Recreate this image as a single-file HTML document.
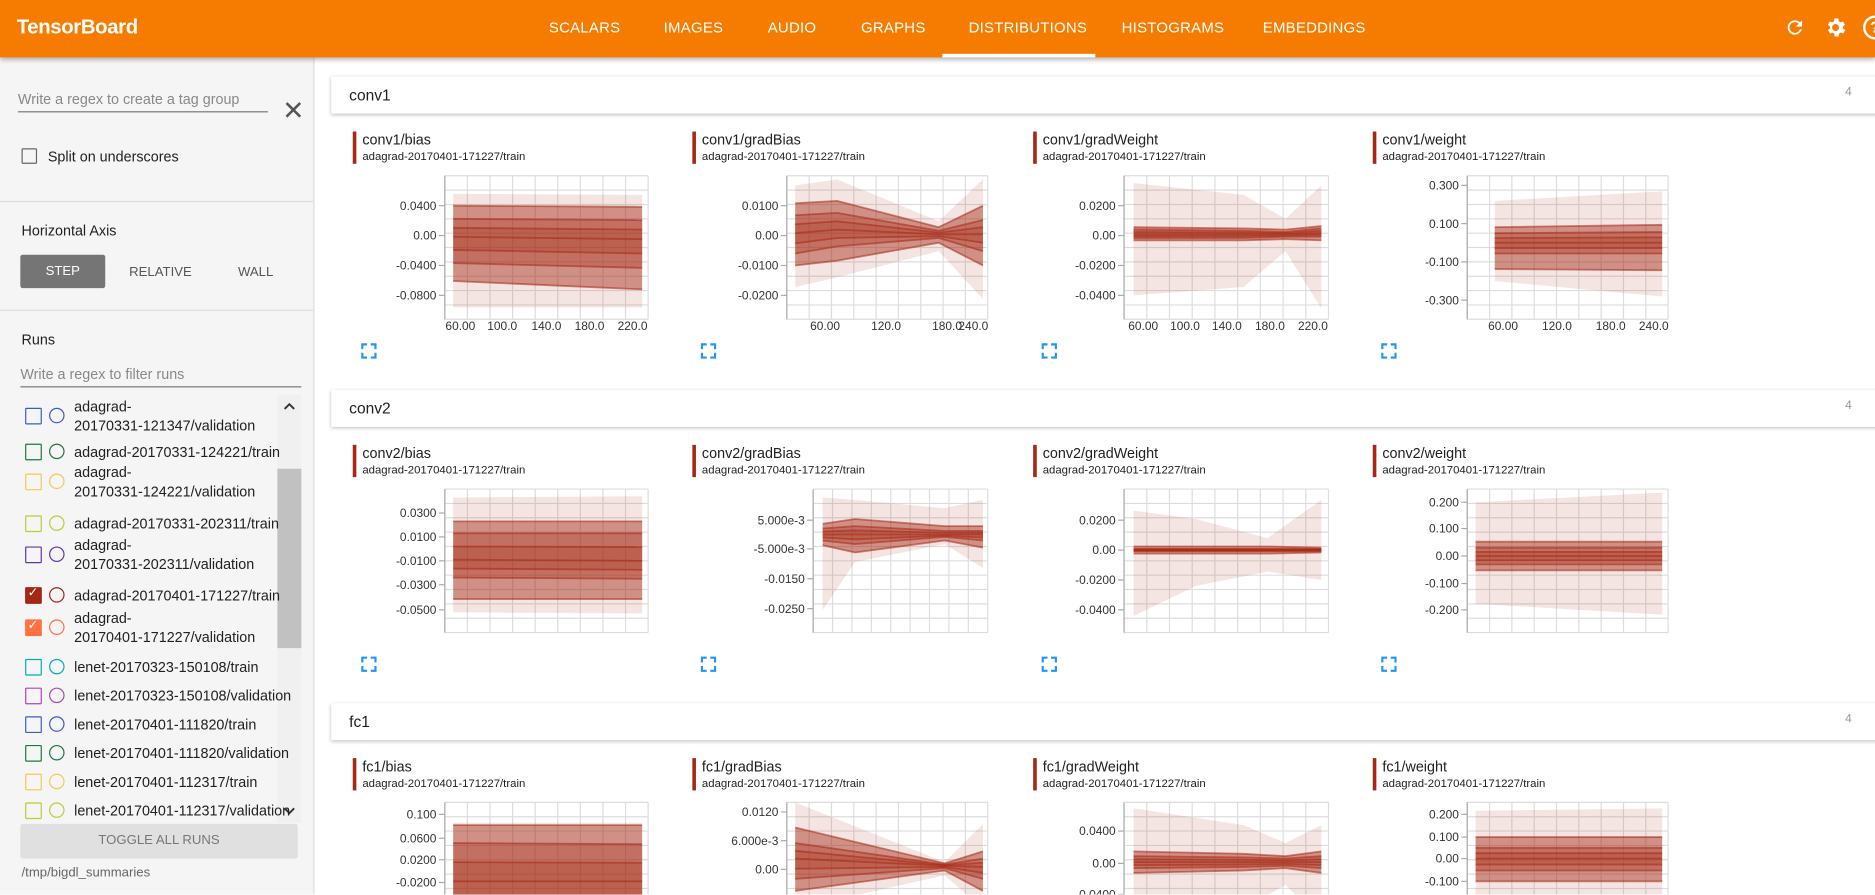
<!DOCTYPE html>
<html><head><meta charset="utf-8">
<style>
html,body{margin:0;padding:0;width:1875px;height:895px;overflow:hidden;background:#fff;font-family:"Liberation Sans",Arial,sans-serif;}
#wrap{position:absolute;left:0;top:0;width:1568px;height:748px;transform:scale(1.19579);transform-origin:0 0;overflow:hidden;background:#fff;}
.abs{position:absolute;white-space:nowrap;}
#hdr{position:absolute;left:0;top:0;width:1568px;height:48px;background:#f57c00;box-shadow:0 2px 4px rgba(0,0,0,.3);z-index:5;}
.tab{position:absolute;top:16px;color:#fff;font-size:12.5px;letter-spacing:.2px;}
#side{position:absolute;left:0;top:48px;width:262px;height:700px;background:#f5f5f5;border-right:1px solid #ddd;}
.div{position:absolute;left:0;width:262px;height:1px;background:#ddd;}
.sec{position:absolute;left:277px;width:1300px;height:31px;background:#fff;box-shadow:0 1px 3px rgba(0,0,0,.25);}
.sec span{position:absolute;left:15px;top:8px;font-size:13px;color:#212121;}
.sec i{position:absolute;left:1266px;top:8px;font-size:10px;color:#999;font-style:normal;}
.run{position:absolute;left:62px;font-size:12px;color:#212121;line-height:16px;}
.cb{position:absolute;left:21px;width:12px;height:12px;border:1.5px solid;border-radius:1px;}
.ci{position:absolute;left:41px;width:11px;height:11px;border:1.3px solid;border-radius:50%;}
</style></head><body>
<div id="wrap">
<div id="hdr">
 <div class="abs" style="left:14px;top:13px;color:#fff;font-size:17px;font-weight:bold;letter-spacing:-.3px">TensorBoard</div>
 <div class="tab" style="left:459px">SCALARS</div>
 <div class="tab" style="left:555px">IMAGES</div>
 <div class="tab" style="left:642px">AUDIO</div>
 <div class="tab" style="left:720px">GRAPHS</div>
 <div class="tab" style="left:810px">DISTRIBUTIONS</div>
 <div class="tab" style="left:938px">HISTOGRAMS</div>
 <div class="tab" style="left:1056px">EMBEDDINGS</div>
 <div class="abs" style="left:788px;top:45px;width:128px;height:3px;background:#fff"></div>
 <svg class="abs" style="left:1492px;top:14px" width="18" height="18" viewBox="0 0 24 24"><path fill="#fff" d="M17.65 6.35A7.95 7.95 0 0 0 12 4a8 8 0 1 0 7.730 10h-2.08A6 6 0 1 1 12 6c1.66 0 3.14.69 4.22 1.78L13 11h7V4l-2.35 2.35z"/></svg>
 <svg class="abs" style="left:1525px;top:13px" width="20" height="20" viewBox="0 0 24 24"><path fill="#fff" d="M19.4 13a7.5 7.5 0 0 0 0-2l2.1-1.6-2-3.5-2.5 1a7 7 0 0 0-1.7-1L14.9 3h-4l-.4 2.9a7 7 0 0 0-1.7 1l-2.5-1-2 3.5L6.6 11a7.5 7.5 0 0 0 0 2l-2.1 1.6 2 3.5 2.5-1a7 7 0 0 0 1.7 1l.4 2.9h4l.4-2.9a7 7 0 0 0 1.7-1l2.5 1 2-3.5zM12 15.5a3.5 3.5 0 1 1 0-7 3.5 3.5 0 0 1 0 7z"/></svg>
 <div class="abs" style="left:1558px;top:13px;width:16px;height:16px;border:2px solid #fff;border-radius:50%;color:#fff;font-size:13px;font-weight:bold;text-align:center;line-height:16px">?</div>
</div>
<div id="side">
 <div class="abs" style="left:15px;top:28px;font-size:12px;color:#888">Write a regex to create a tag group</div>
 <div class="abs" style="left:15px;top:45px;width:209px;height:1px;background:#777"></div>
 <div class="abs" style="left:236px;top:34px;font-size:22px;color:#555;line-height:22px">✕</div>
 <div class="abs" style="left:18px;top:76px;width:11px;height:11px;border:1.5px solid #666;border-radius:1px"></div>
 <div class="abs" style="left:40px;top:76px;font-size:12px;color:#212121">Split on underscores</div>
 <div class="div" style="top:120px"></div>
 <div class="abs" style="left:18px;top:138px;font-size:12px;color:#212121">Horizontal Axis</div>
 <div class="abs" style="left:17px;top:165px;width:71px;height:28px;background:#757575;border-radius:2px;color:#fff;font-size:11px;text-align:center;line-height:28px">STEP</div>
 <div class="abs" style="left:108px;top:174px;font-size:11px;color:#555">RELATIVE</div>
 <div class="abs" style="left:199px;top:174px;font-size:11px;color:#555">WALL</div>
 <div class="div" style="top:211px"></div>
 <div class="abs" style="left:18px;top:229px;font-size:12px;color:#212121">Runs</div>
 <div class="abs" style="left:17px;top:258px;font-size:12px;color:#888">Write a regex to filter runs</div>
 <div class="abs" style="left:17px;top:275px;width:235px;height:1px;background:#777"></div>
 <div class="abs" style="left:232px;top:282px;width:20px;height:358px;background:#f0f0f0"></div>
 <div class="abs" style="left:232px;top:344px;width:20px;height:150px;background:#c1c1c1"></div>
 <svg class="abs" style="left:237px;top:288px" width="10" height="8"><path d="M1 6L5 2L9 6" stroke="#333" stroke-width="1.6" fill="none"/></svg>
 <svg class="abs" style="left:237px;top:626px" width="10" height="8"><path d="M1 2L5 6L9 2" stroke="#333" stroke-width="1.6" fill="none"/></svg>
 <div id="runs"></div>
 <div class="abs" style="left:17px;top:641px;width:232px;height:29px;background:#e0e0e0;border-radius:2px;color:#777;font-size:11px;text-align:center;line-height:29px">TOGGLE ALL RUNS</div>
 <div class="abs" style="left:18px;top:676px;font-size:11px;color:#666">/tmp/bigdl_summaries</div>
</div>
<div class="sec" style="top:64px"><span>conv1</span><i>4</i></div>
<div class="sec" style="top:326px"><span>conv2</span><i>4</i></div>
<div class="sec" style="top:588px"><span>fc1</span><i>4</i></div>
<div id="charts"></div>
</div>
<script>
var runs=[
["adagrad-<br>20170331-121347/validation",348,"#3b5bcc",0],
["adagrad-20170331-124221/train",378,"#1b7a3e",0],
["adagrad-<br>20170331-124221/validation",403,"#f9c74f",0],
["adagrad-20170331-202311/train",438,"#c0ca33",0],
["adagrad-<br>20170331-202311/validation",464,"#5e35b1",0],
["adagrad-20170401-171227/train",498,"#a52714",1],
["adagrad-<br>20170401-171227/validation",525,"#ff7043",1],
["lenet-20170323-150108/train",558,"#00acc1",0],
["lenet-20170323-150108/validation",582,"#ab47bc",0],
["lenet-20170401-111820/train",606,"#3b5bcc",0],
["lenet-20170401-111820/validation",630,"#1b7a3e",0],
["lenet-20170401-112317/train",654,"#f9c74f",0],
["lenet-20170401-112317/validation",678,"#c0ca33",0]];
var h="";
runs.forEach(function(r){var y=r[1]-48;var two=r[0].indexOf("<br>")>=0;
h+='<div class="cb" style="top:'+(y-7)+'px;border-color:'+r[2]+';'+(r[3]?'background:'+r[2]+';':'')+'">'+(r[3]?'<span style="position:absolute;left:1px;top:-3px;color:#fff;font-size:11px">✓</span>':'')+'</div>';
h+='<div class="ci" style="top:'+(y-7)+'px;border-color:'+r[2]+'"></div>';
h+='<div class="run" style="top:'+(y-(two?16:8))+'px">'+r[0]+'</div>';});
document.getElementById("runs").innerHTML=h;

var C=[
{b:295,r:0,t:"conv1/bias",L:372,yl:[["0.0400",172],["0.00",197],["-0.0400",222],["-0.0800",247]],xl:[["60.00",385],["100.0",420],["140.0",457],["180.0",493],["220.0",529]],p:[[379,162,172,183,198,220,235,257],[537,163,173,184,200,224,242,257]]},
{b:579,r:0,t:"conv1/gradBias",L:658,yl:[["0.0100",172],["0.00",197],["-0.0100",222],["-0.0200",247]],xl:[["60.00",690],["120.0",741],["180.0",792],["240.0",814]],p:[[665,155,170,180,195,212,222,240],[700,150,168,178,192,206,218,232],[785,185,190,193,196,199,203,210],[822,150,172,184,196,210,222,250]]},
{b:864,r:0,t:"conv1/gradWeight",L:940,yl:[["0.0200",172],["0.00",197],["-0.0200",222],["-0.0400",247]],xl:[["60.00",956],["100.0",991],["140.0",1026],["180.0",1062],["220.0",1098]],p:[[948,153,190,192,196,199,201,247],[1040,163,191,193,196,199,201,240],[1075,183,192,194,196,198,200,210],[1105,155,189,191,195,198,201,258]]},
{b:1148,r:0,t:"conv1/weight",L:1227,yl:[["0.300",155],["0.100",187],["-0.100",219],["-0.300",251]],xl:[["60.00",1257],["120.0",1302],["180.0",1347],["240.0",1383]],p:[[1250,168,190,195,203,212,225,235],[1390,160,188,194,203,212,226,248]]},
{b:295,r:1,t:"conv2/bias",L:372,yl:[["0.0300",429],["0.0100",449],["-0.0100",469],["-0.0300",489],["-0.0500",510]],xl:[],p:[[379,416,436,446,468,483,501,512],[537,415,436,446,469,484,501,513]]},
{b:579,r:1,t:"conv2/gradBias",L:680,yl:[["5.000e-3",435],["-5.000e-3",459],["-0.0150",484],["-0.0250",509]],xl:[],p:[[688,416,438,442,447,452,456,510],[715,418,434,440,447,455,462,470],[790,425,440,444,447,449,452,455],[822,418,440,444,447,452,458,475]]},
{b:864,r:1,t:"conv2/gradWeight",L:940,yl:[["0.0200",435],["0.00",460],["-0.0200",485],["-0.0400",510]],xl:[],p:[[948,427,457,459,460,461,463,515],[1000,434,457,459,460,461,463,490],[1060,450,457,459,460,461,463,478],[1105,418,458,459,460,461,462,485]]},
{b:1148,r:1,t:"conv2/weight",L:1227,yl:[["0.200",420],["0.100",442],["0.00",465],["-0.100",488],["-0.200",510]],xl:[],p:[[1234,420,453,458,465,472,477,505],[1390,412,453,458,465,472,477,514]]},
{b:295,r:2,t:"fc1/bias",L:372,yl:[["0.100",681],["0.0600",701],["0.0200",719],["-0.0200",738]],xl:[],p:[[379,688,690,705,737,760,775,790],[537,688,690,706,737,760,775,790]]},
{b:579,r:2,t:"fc1/gradBias",L:658,yl:[["0.0120",679],["6.000e-3",703],["0.00",727]],xl:[],p:[[665,671,692,705,718,735,745,760],[790,721,722,723,724,726,728,732],[822,689,712,718,725,735,745,760]]},
{b:864,r:2,t:"fc1/gradWeight",L:940,yl:[["0.0400",695],["0.00",722],["-0.0400",748]],xl:[],p:[[948,676,712,716,721,726,730,770],[1040,690,714,717,721,725,728,760],[1075,705,716,718,721,724,726,740],[1105,690,712,716,721,726,730,770]]},
{b:1148,r:2,t:"fc1/weight",L:1227,yl:[["0.200",681],["0.100",700],["0.00",718],["-0.100",737]],xl:[],p:[[1234,678,700,709,718,728,737,760],[1390,676,700,709,718,728,737,762]]}];
var s='<svg class="abs" style="left:0;top:0" width="1568" height="748">';
var tx="";
C.forEach(function(c){
 var off=c.r*262, top=147+off, bot=267+off, R=c.b+247, L=c.L;
 tx+='<div class="abs" style="left:'+c.b+'px;top:'+(110+off)+'px;width:3px;height:27px;background:#a52714"></div>';
 tx+='<div class="abs" style="left:'+(c.b+8)+'px;top:'+(110+off)+'px;font-size:12px;color:#212121">'+c.t+'</div>';
 tx+='<div class="abs" style="left:'+(c.b+8)+'px;top:'+(126+off)+'px;font-size:9.5px;color:#212121">adagrad-20170401-171227/train</div>';
 for(var x=L;x<=R+0.5;x+=(R-L)/9) s+='<line x1="'+x+'" y1="'+top+'" x2="'+x+'" y2="'+bot+'" stroke="#ddd" stroke-width="1"/>';
 for(var y=top;y<=bot+0.5;y+=12) s+='<line x1="'+L+'" y1="'+y+'" x2="'+R+'" y2="'+y+'" stroke="#ddd" stroke-width="1"/>';
 s+='<line x1="'+L+'" y1="'+top+'" x2="'+L+'" y2="'+bot+'" stroke="#aaa" stroke-width="1"/>';
 c.yl.forEach(function(l){s+='<line x1="'+(L-5)+'" y1="'+l[1]+'" x2="'+L+'" y2="'+l[1]+'" stroke="#aaa"/>';
  s+='<text x="'+(L-7)+'" y="'+(l[1]+3.5)+'" font-size="10" text-anchor="end" fill="#333" font-family="Liberation Sans">'+l[0]+'</text>';});
 c.xl.forEach(function(l){s+='<text x="'+l[1]+'" y="'+(bot+9)+'" font-size="10" text-anchor="middle" fill="#333" font-family="Liberation Sans">'+l[0]+'</text>';});
 var P=c.p.map(function(q){return [q[0],q[1],q[2],q[3],(q[3]+q[4])/2,q[4],(q[4]+q[5])/2,q[5],q[6],q[7]];});
 function band(i,j,op){var a=P.map(function(q){return q[0]+','+q[i]}).join(' ');var b=P.slice().reverse().map(function(q){return q[0]+','+q[j]}).join(' ');
  s+='<polygon points="'+a+' '+b+'" fill="#a52714" fill-opacity="'+op+'"/>';}
 band(1,9,0.12);band(2,8,0.45);band(3,7,0.3);band(4,6,0.22);
 [2,3,4,5,6,7,8].forEach(function(i){s+='<polyline points="'+P.map(function(q){return q[0]+','+q[i]}).join(' ')+'" fill="none" stroke="#a52714" stroke-opacity="0.55" stroke-width="1.5"/>';});
 var ix=c.b+8, iy=288+off;
 s+='<path d="M'+ix+' '+(iy+4)+'V'+iy+'H'+(ix+4)+'M'+(ix+7)+' '+iy+'H'+(ix+11)+'V'+(iy+4)+'M'+(ix+11)+' '+(iy+7)+'V'+(iy+11)+'H'+(ix+7)+'M'+(ix+4)+' '+(iy+11)+'H'+ix+'V'+(iy+7)+'" stroke="#2196f3" stroke-width="1.8" fill="none"/>';
});
s+='</svg>';
document.getElementById("charts").innerHTML=s+tx;
</script>
</body></html>
